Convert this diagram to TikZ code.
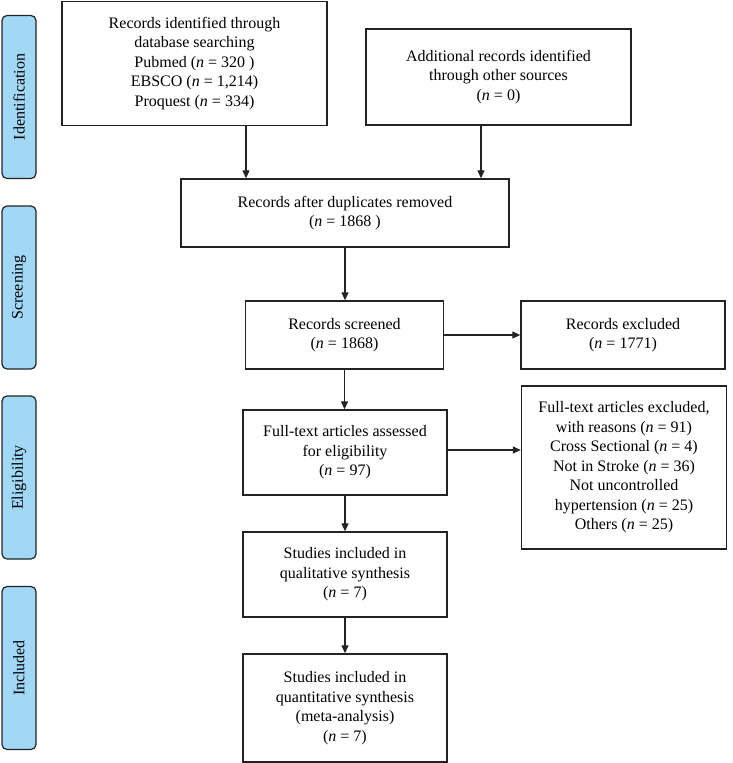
\documentclass[tikz,border=0pt]{standalone}
\usepackage{fontspec}
\setmainfont{Liberation Serif}
\usetikzlibrary{arrows.meta}
\definecolor{sideblue}{RGB}{160,216,246}
\definecolor{linegray}{RGB}{35,35,35}
\begin{document}
\begin{tikzpicture}[x=1pt,y=-1pt,
  box/.style={draw=linegray, line width=1.4pt, align=center, inner sep=0pt,
    font=\fontsize{16}{19.5}\selectfont},
  side/.style={draw=linegray, fill=sideblue, rounded corners=5pt, line width=1.2pt,
    minimum width=163pt, minimum height=34pt, inner sep=0pt, rotate=90,
    font=\fontsize{16}{19}\selectfont},
  arr/.style={-{Triangle[length=8pt,width=7pt]}, line width=1.3pt, draw=linegray}]
\useasboundingbox (0,0) rectangle (732,763);
% phase labels
\node[side] (s1) at (19,97) {Identification};
\node[side] (s2) at (19,287.5) {Screening};
\node[side] (s3) at (19,477.5) {Eligibility};
\node[side] (s4) at (19,668) {Included};
% boxes
\node[box, minimum width=265pt, minimum height=124pt] (b1) at (194.5,63.5)
  {Records identified through\\database searching\\Pubmed (\textit{n} = 320 )\\EBSCO (\textit{n} = 1,214)\\Proquest (\textit{n} = 334)};
\node[box, minimum width=265pt, minimum height=96pt] (b2) at (498.5,77)
  {Additional records identified\\through other sources\\(\textit{n} = 0)};
\node[box, minimum width=328pt, minimum height=68pt] (b3) at (345,213)
  {Records after duplicates removed\\(\textit{n} = 1868 )};
\node[box, minimum width=198pt, minimum height=68pt] (b4) at (344.5,335)
  {Records screened\\(\textit{n} = 1868)};
\node[box, minimum width=204pt, minimum height=68pt] (ex1) at (623,335)
  {Records excluded\\(\textit{n} = 1771)};
\node[box, minimum width=204pt, minimum height=85pt] (b5) at (345,452.5)
  {Full-text articles assessed\\for eligibility\\(\textit{n} = 97)};
\node[box, minimum width=205pt, minimum height=163pt] (ex2) at (624,467.5)
  {Full-text articles excluded,\\with reasons (\textit{n} = 91)\\Cross Sectional (\textit{n} = 4)\\Not in Stroke (\textit{n} = 36)\\Not uncontrolled\\hypertension (\textit{n} = 25)\\Others (\textit{n} = 25)};
\node[box, minimum width=204pt, minimum height=85pt] (b6) at (345,574.5)
  {Studies included in\\qualitative synthesis\\(\textit{n} = 7)};
\node[box, minimum width=204pt, minimum height=108pt] (b7) at (345,708)
  {Studies included in\\quantitative synthesis\\(meta-analysis)\\(\textit{n} = 7)};
% connectors
\draw[arr] ([xshift=51.5pt]b1.south) -- ([xshift=51.5pt]b1.south |- b3.north);
\draw[arr] ([xshift=-17.5pt]b2.south) -- ([xshift=-17.5pt]b2.south |- b3.north);
\draw[arr] (b3.south) -- (b3.south |- b4.north);
\draw[arr] (b4.east) -- (ex1.west);
\draw[arr] (b4.south) -- (b4.south |- b5.north);
\draw[arr] ([yshift=2.5pt]b5.east) -- ([yshift=2.5pt]b5.east -| ex2.west);
\draw[arr] (b5.south) -- (b6.north);
\draw[arr] (b6.south) -- (b7.north);
\end{tikzpicture}
\end{document}
